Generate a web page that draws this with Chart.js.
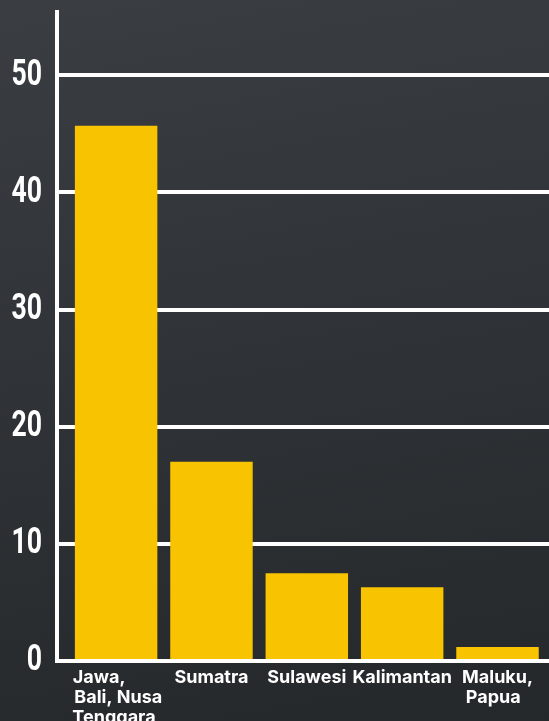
<!DOCTYPE html>
<html>
<head>
<meta charset="utf-8">
<script src="https://cdn.jsdelivr.net/npm/chart.js@4"></script>
<style>
  html, body { margin: 0; padding: 0; }
  body {
    width: 549px; height: 721px; overflow: hidden;
    background: linear-gradient(170deg, #3a3d41 0%, #303337 45%, #25282b 100%);
  }
  #wrap { position: relative; width: 549px; height: 721px; }
</style>
</head>
<body>
<div id="wrap"><canvas id="grafico"></canvas></div>
<script>
  const PULAU = [
    [' Jawa,         ', ' Bali, Nusa', ' Tenggara  '],
    'Sumatra',
    'Sulawesi',
    'Kalimantan',
    ['Maluku,', 'Papua  '],
  ];
  const NILAI = [45.7, 17.0, 7.5, 6.3, 1.2];
  const Y_TICKS = [0, 10, 20, 30, 40, 50];

  // linear x so the first bar sits clear of the y-axis; X_MIN tick only carries
  // the axis stub that runs down past the zero line
  const X_MIN = -0.62, X_MAX = 4.54;
  const KUNING = '#f8c300', PUTIH = '#ffffff';
  const Y_PAD = 15, Y_SQUEEZE = 0.72; // no condensed face installed: narrow the tick labels

  function sempitkan(ax) {
    if (ax._sempit) return;
    ax._sempit = true;
    const asli = ax.drawLabels.bind(ax);
    ax.drawLabels = (area) => {
      const ctx = ax.ctx, cx = ax.right - Y_PAD;
      ctx.save();
      ctx.translate(cx, 0); ctx.scale(Y_SQUEEZE, 1); ctx.translate(-cx, 0);
      asli(area);
      ctx.restore();
    };
  }

  new Chart(document.getElementById('grafico'), {
    type: 'bar',
    data: {
      datasets: [{
        data: NILAI.map((v, i) => ({ x: i, y: v })),
        backgroundColor: KUNING,
        borderWidth: 0,
        barPercentage: 0.865,
        // bar ruler uses the smallest tick gap (X_MIN → 0), scale back to 1 category
        categoryPercentage: 1 / (0 - X_MIN),
      }],
    },
    options: {
      responsive: true, maintainAspectRatio: false, animation: false,
      layout: { padding: { top: 12, right: 0, left: 0, bottom: 0 } },
      plugins: { legend: { display: false }, tooltip: { enabled: false } },
      scales: {
        x: {
          type: 'linear', min: X_MIN, max: X_MAX, offset: false,
          afterBuildTicks: (ax) => { ax.ticks = [X_MIN, 0, 1, 2, 3, 4].map(v => ({ value: v })); },
          afterFit: (ax) => { ax.height = 60; ax.paddingLeft = 0; ax.paddingRight = 0; },
          border: { display: false },
          grid: {
            drawOnChartArea: false, drawTicks: true, tickLength: 52, lineWidth: 4,
            color: (ctx) => ctx.tick && ctx.tick.value === X_MIN ? PUTIH : 'rgba(0,0,0,0)',
          },
          ticks: {
            autoSkip: false, maxRotation: 0, padding: -45,
            color: PUTIH,
            font: { family: 'Inter', weight: 'bold', size: 18, lineHeight: 1.1 },
            callback: (v) => (Number.isInteger(v) && PULAU[v] !== undefined) ? PULAU[v] : '',
          },
        },
        y: {
          min: 0, max: 55.4,
          afterBuildTicks: (ax) => { ax.ticks = Y_TICKS.map(v => ({ value: v })); },
          afterFit: (ax) => { ax.width = 57; ax.paddingTop = 0; ax.paddingBottom = 0; sempitkan(ax); },
          border: { display: true, color: PUTIH, width: 4 },
          grid: { color: PUTIH, lineWidth: 4, drawTicks: false },
          ticks: {
            padding: Y_PAD, color: PUTIH,
            font: { family: 'Roboto', weight: 'bold', size: 37 },
          },
        },
      },
    },
  });
</script>
</body>
</html>
